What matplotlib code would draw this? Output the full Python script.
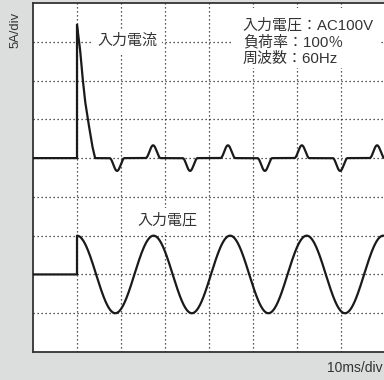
import numpy as np
import matplotlib.pyplot as plt
from matplotlib.patches import Rectangle

plt.rcParams['font.family'] = ['Liberation Sans', 'Noto Sans CJK JP']

# horizontal: 10 ms/div, vertical: traces in divisions
t_on = 10.0          # ms, input switched on
t_end = 82.0

v_base = 2.0         # div, zero level of the voltage trace
v_amp = 1.0          # div
v_period = 17.4      # ms

i_base = 5.0         # div, zero level of the current trace
# inrush spike: ms after switch-on, height in div
spike_t = [0.0, 0.35, 0.7, 1.2, 1.8, 2.4, 2.95, 3.5, 4.1]
spike_h = [3.44, 3.1, 2.8, 2.15, 1.5, 1.05, 0.67, 0.3, 0.0]
# rectifier charging pulses: centre (ms), height (div)
pulse_t = [19.1, 27.3, 35.7, 44.3, 52.7, 61.1, 69.8, 78.2]
pulse_h = [-0.33, 0.33, -0.33, 0.33, -0.33, 0.33, -0.33, 0.33]
pulse_w = 3.4        # ms, full width of a pulse

info_lines = ['入力電圧：AC100V', '負荷率：100％', '周波数：60Hz']

# ------------------------------------------------
# build the traces
# ------------------------------------------------
t = np.linspace(0, t_end, 4101)
pre = t[t < t_on]
post = t[t >= t_on]

v_post = v_base + v_amp * np.cos(2 * np.pi * (post - t_on) / v_period)
t_v = np.concatenate([pre, [t_on], post])
v = np.concatenate([np.full(len(pre), v_base), [v_base], v_post])

i_post = np.interp(post - t_on, spike_t, spike_h, right=0.0)
for c, h in zip(pulse_t, pulse_h):
    d = np.abs(post - c)
    m = d < pulse_w / 2
    i_post[m] += h * 0.5 * (1 + np.cos(np.pi * d[m] / (pulse_w / 2)))
i_tr = np.concatenate([np.full(len(pre), i_base), [i_base], i_base + i_post])

# ------------------------------------------------
# plot
# ------------------------------------------------
bg = '#dcdddd'
ink = '#333333'
fig = plt.figure(figsize=(3.84, 3.80), dpi=100, facecolor=bg)
ax = fig.add_axes([33 / 384, 28 / 380, 352 / 384, 349 / 380])
ax.set_facecolor('white')

ax.set_xlim(0, 80)
ax.set_ylim(0, 9)
ax.set_xticks(np.arange(10, 80, 10))
ax.set_yticks(np.arange(1, 9, 1))
ax.tick_params(length=0, labelbottom=False, labelleft=False)
ax.grid(True, color='#222222', linestyle=(0, (1, 2.2)), linewidth=0.9)

for s in ['left', 'bottom', 'top']:
    ax.spines[s].set_color(ink)
    ax.spines[s].set_linewidth(1.3)
ax.spines['right'].set_visible(False)

ax.plot(t_v, v, color='#1a1a1a', linewidth=1.6, zorder=3)
ax.plot(t_v, i_tr, color='#1a1a1a', linewidth=1.6, zorder=3)

label_box = dict(facecolor='white', edgecolor='none', pad=3.5)
ax.text(14.6, 8.02, '入力電流', fontsize=10.8, color=ink, va='center', ha='left',
        bbox=label_box, zorder=4)
ax.text(23.8, 3.40, '入力電圧', fontsize=10.8, color=ink, va='center', ha='left',
        bbox=label_box, zorder=4)

# white panel behind the test conditions
ax.add_patch(Rectangle((45.5, 7.33), 33.6, 1.54, facecolor='white',
                       edgecolor='none', zorder=2.5))
for k, line in enumerate(info_lines):
    ax.text(47.7, [8.43, 7.99, 7.57][k], line, fontsize=10.8, color=ink,
            va='center', ha='left', zorder=4)

fig.text(16 / 384, 1 - 30 / 380, '5A/div', rotation=90, fontsize=9.4, color=ink,
         ha='center', va='center')
fig.text(383 / 384, 1 - 368 / 380, '10ms/div', fontsize=10, color=ink,
         ha='right', va='center')

plt.savefig('out.png', dpi=100, facecolor=bg)
